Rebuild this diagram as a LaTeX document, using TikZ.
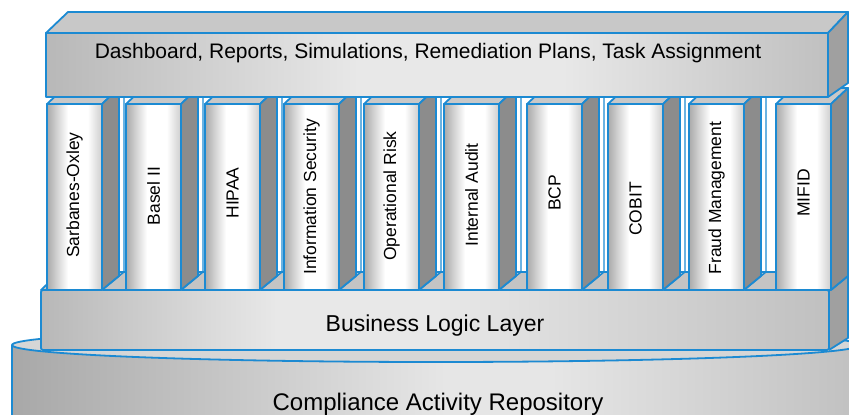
\documentclass[tikz,border=0pt]{standalone}
\usepackage{fontspec}
\setmainfont{Liberation Sans}
\definecolor{edge}{RGB}{28,138,210}
\definecolor{pilL}{RGB}{170,170,170}
\definecolor{pilR}{RGB}{205,205,205}
\definecolor{pilside}{RGB}{140,140,140}
\definecolor{floorgray}{RGB}{196,196,196}
\definecolor{boxL}{RGB}{184,184,184}
\definecolor{boxM}{RGB}{232,232,232}
\definecolor{boxR}{RGB}{192,192,192}
\definecolor{boxtop}{RGB}{200,200,200}
\definecolor{boxside}{RGB}{160,160,160}
\definecolor{cylL}{RGB}{168,168,168}
\definecolor{cylM}{RGB}{230,230,230}
\definecolor{cylR}{RGB}{190,190,190}
\definecolor{cyltop}{RGB}{214,214,214}
% horizontal shadings: the path box maps onto 25bp..75bp
\pgfdeclarehorizontalshading{pillarface}{100bp}{color(0bp)=(pilL); color(25bp)=(pilL); color(44bp)=(white); color(62bp)=(white); color(75bp)=(pilR); color(100bp)=(pilR)}
\pgfdeclarehorizontalshading{slabface}{100bp}{color(0bp)=(boxL); color(25bp)=(boxL); color(45bp)=(boxM); color(58bp)=(boxM); color(75bp)=(boxR); color(100bp)=(boxR)}
\pgfdeclarehorizontalshading{layerface}{100bp}{color(0bp)=(boxL); color(25bp)=(boxL); color(40bp)=(boxM); color(50bp)=(boxM); color(75bp)=(boxR); color(100bp)=(boxR)}
\pgfdeclarehorizontalshading{cylface}{100bp}{color(0bp)=(cylL); color(25bp)=(cylL); color(50bp)=(cylM); color(56bp)=(cylM); color(75bp)=(cylR); color(100bp)=(cylR)}
\tikzset{
  outline/.style={draw=edge, line width=1.8pt, line join=round},
  pillarlabel/.style={rotate=90, font=\fontsize{17.5}{20}\selectfont, inner sep=0pt},
  biglabel/.style={anchor=base, inner sep=0pt},
}
\begin{document}
\begin{tikzpicture}[x=1pt,y=-1pt]
\useasboundingbox (0,0) rectangle (849,415);
\clip (0,0) rectangle (849,415);

% repository cylinder
\shade[shading=cylface] (12,345) rectangle (880,430);
\draw[outline] (12,345) -- (12,430);
\filldraw[outline, fill=cyltop] (436,345) ellipse [x radius=424, y radius=17];

% business logic layer slab
\filldraw[outline, fill=floorgray] (41,290) -- (829,290) -- (848,272) -- (60,272) -- cycle;
\filldraw[outline, fill=boxside] (829,290) -- (848,272) -- (848,338) -- (829,350) -- cycle;
\shade[shading=layerface] (41,290) rectangle (829,350);
\draw[outline, rounded corners=2pt] (41,350) -- (41,290) -- (829,290) -- (829,350) -- cycle;

% pillars
\foreach \xl in {47,126,205,284,364,444,527,608,689,776}{
  \filldraw[outline, fill=boxtop] (\xl,104) -- (\xl+55,104) -- (\xl+72,88) -- (\xl+17,88) -- cycle;
  \filldraw[outline, fill=pilside] (\xl+55,104) -- (\xl+72,88) -- (\xl+72,276) -- (\xl+55,290) -- cycle;
  \draw[outline, line width=1.4pt] (\xl+77,92) -- (\xl+77,272) -- (\xl+55,290);
  \shade[shading=pillarface] (\xl,104) rectangle (\xl+55,290);
  \draw[outline] (\xl,104) rectangle (\xl+55,290);
}

% top slab
\filldraw[outline, fill=boxtop] (46,33) -- (68,12) -- (848,12) -- (828,33) -- cycle;
\filldraw[outline, fill=boxside] (828,33) -- (848,12) -- (848,83) -- (828,97) -- cycle;
\shade[shading=slabface] (46,33) rectangle (828,97);
\draw[outline] (46,33) rectangle (828,97);

% texts
\node[biglabel, font=\fontsize{21}{24}\selectfont] (dash) at (428,58) {Dashboard, Reports, Simulations, Remediation Plans, Task Assignment};
\node[biglabel, font=\fontsize{23}{26}\selectfont] (blogic) at (435,331) {Business Logic Layer};
\node[biglabel, font=\fontsize{24}{27}\selectfont] (repo) at (438,410) {Compliance Activity Repository};

\node[pillarlabel] (p1) at (74.5,195) {Sarbanes-Oxley};
\node[pillarlabel] (p2) at (153.5,196) {Basel II};
\node[pillarlabel] (p3) at (232.5,193) {HIPAA};
\node[pillarlabel] (p4) at (311.5,197) {Information Security};
\node[pillarlabel] (p5) at (391.5,196) {Operational Risk};
\node[pillarlabel] (p6) at (471.5,195) {Internal Audit};
\node[pillarlabel] (p7) at (554.5,193) {BCP};
\node[pillarlabel] (p8) at (635.5,209) {COBIT};
\node[pillarlabel] (p9) at (716.5,198) {Fraud Management};
\node[pillarlabel] (p10) at (803.5,193) {MIFID};
\end{tikzpicture}
\end{document}
